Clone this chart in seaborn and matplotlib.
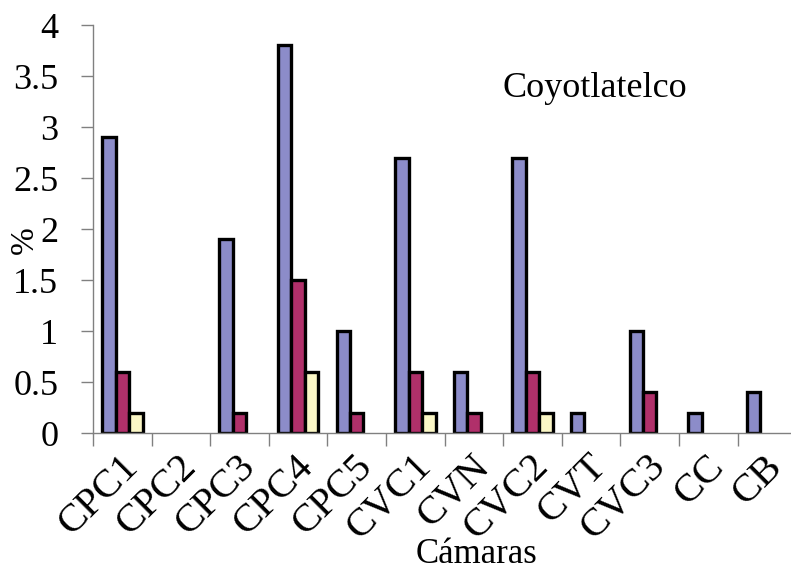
import seaborn as sns
import matplotlib.pyplot as plt
import matplotlib.transforms as mtransforms
import pandas as pd
import numpy as np

camaras = ['CPC1', 'CPC2', 'CPC3', 'CPC4', 'CPC5', 'CVC1', 'CVN', 'CVC2', 'CVT', 'CVC3', 'CC', 'CB']
serie1 = [2.9, 0, 1.9, 3.8, 1.0, 2.7, 0.6, 2.7, 0.2, 1.0, 0.2, 0.4]
serie2 = [0.6, 0, 0.2, 1.5, 0.2, 0.6, 0.2, 0.6, 0, 0.4, 0, 0]
serie3 = [0.2, 0, 0, 0.6, 0, 0.2, 0, 0.2, 0, 0, 0, 0]
series = ['Serie 1', 'Serie 2', 'Serie 3']
colores = ['#8c8cc9', '#b0306a', '#fbf7c6']

df = pd.DataFrame({'Camara': camaras, 'Serie 1': serie1, 'Serie 2': serie2, 'Serie 3': serie3})
df = df.melt(id_vars='Camara', var_name='Serie', value_name='pct')
df = df[df['pct'] > 0]  # bars of zero are not drawn

sns.set_style('white')
plt.rcParams['font.family'] = ['Liberation Serif', 'DejaVu Serif']
plt.rcParams['text.color'] = 'black'
plt.rcParams['axes.labelcolor'] = 'black'
plt.rcParams['xtick.color'] = 'black'
plt.rcParams['ytick.color'] = 'black'

fig = plt.figure(figsize=(7.91, 5.73), dpi=100)
ax = fig.add_axes([0.1176, 0.2443, 0.889, 0.712])

sns.barplot(data=df, x='Camara', y='pct', hue='Serie', order=camaras, hue_order=series,
            palette=colores, saturation=1, width=0.69, gap=0, edgecolor='black', linewidth=2.4,
            legend=False, ax=ax)

ax.set_xlim(-0.5, len(camaras) - 0.5)
ax.set_ylim(0, 4)
ax.set_yticks(np.arange(0, 4.01, 0.5))
ax.set_yticklabels(['0', '0.5', '1', '1.5', '2', '2.5', '3', '3.5', '4'])

# labels at group centres, tick marks at group boundaries
ax.set_xticks(np.arange(len(camaras)))
ax.set_xticklabels(camaras, rotation=45, ha='right', va='center', rotation_mode='anchor')
ax.set_xticks(np.arange(len(camaras)) - 0.5, minor=True)
ax.tick_params(axis='x', which='major', length=0, pad=18, labelsize=29)
ax.tick_params(axis='x', which='minor', length=9, width=1, color='#808080', direction='out', bottom=True)
ax.tick_params(axis='y', length=9, width=1, color='#808080', direction='out', left=True, pad=16,
               labelsize=26)
shift = mtransforms.ScaledTranslation(10 / 100, -3 / 100, fig.dpi_scale_trans)
for lab in ax.get_xticklabels():
    lab.set_transform(lab.get_transform() + shift)

for s in ['top', 'right']:
    ax.spines[s].set_visible(False)
for s in ['left', 'bottom']:
    ax.spines[s].set_color('#808080')
    ax.spines[s].set_linewidth(1)

ax.set_xlabel('Cámaras', fontsize=25)
ax.xaxis.set_label_coords(0.545, -0.257)
ax.set_ylabel('%', fontsize=24)
ax.yaxis.set_label_coords(-0.076, 0.473)

ax.text(8.07, 3.38, 'Coyotlatelco', fontsize=26, ha='center', va='center')

plt.savefig('out.png', dpi=100)
